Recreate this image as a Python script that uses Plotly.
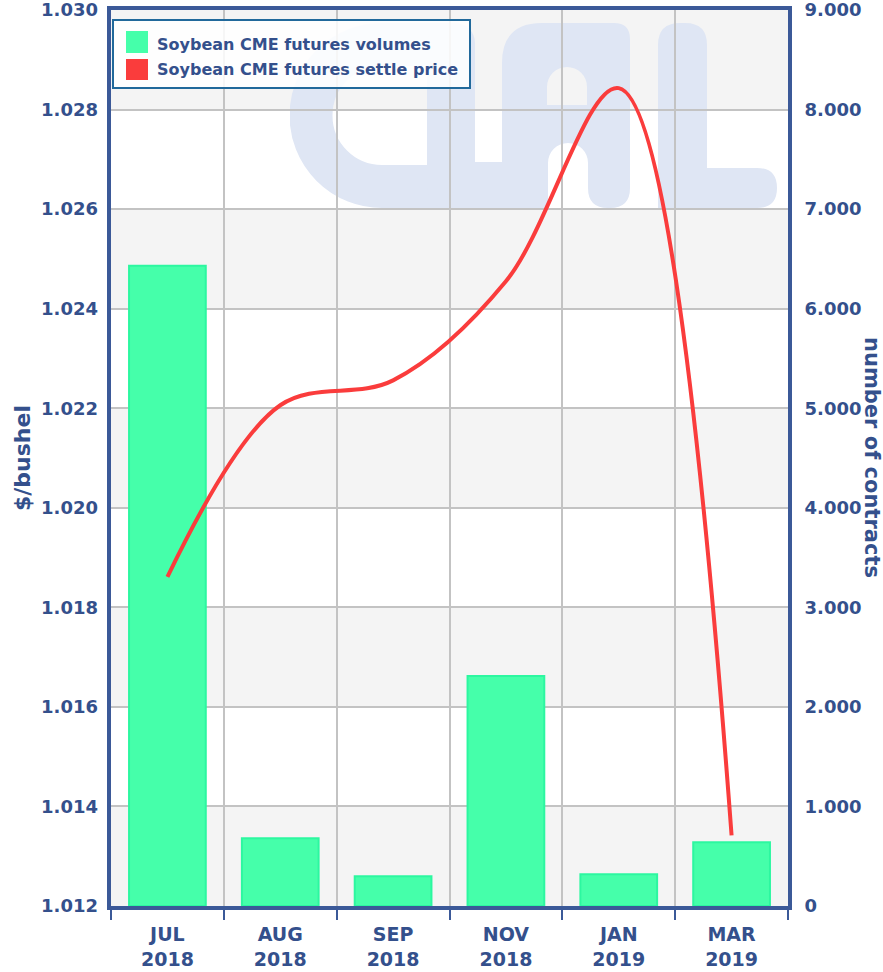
import base64
import plotly.graph_objects as go

# data
months = ["JUL<br>2018", "AUG<br>2018", "SEP<br>2018", "NOV<br>2018", "JAN<br>2019", "MAR<br>2019"]
volumes = [6430, 680, 300, 2310, 320, 640]
settle_price = [1.01861, 1.02206, 1.02256, 1.02455, 1.02843, 1.01342]

price_ticks = [1.012, 1.014, 1.016, 1.018, 1.020, 1.022, 1.024, 1.026, 1.028, 1.030]
volume_ticks = [0, 1000, 2000, 3000, 4000, 5000, 6000, 7000, 8000, 9000]
volume_ticktext = ["0", "1.000", "2.000", "3.000", "4.000", "5.000", "6.000", "7.000", "8.000", "9.000"]

W, H = 883, 972
ML, MR, MT, MB = 111, 95, 10, 66
PW, PH = W - ML - MR, H - MT - MB

BLUE = "#3b5998"
TEXT = "#34508c"
FONT = "DejaVu Sans"


def px_x(px):
    return (px - ML) / PW


def px_y(py):
    return 1 - (py - MT) / PH


fig = go.Figure()

fig.add_trace(go.Bar(
    x=months, y=volumes, name="Soybean CME futures volumes",
    width=0.68, yaxis="y",
    marker=dict(color="#45ffaa", line=dict(color="#2cf7a0", width=2)),
    showlegend=False,
))
fig.add_trace(go.Scatter(
    x=months, y=settle_price, name="Soybean CME futures settle price",
    mode="lines", yaxis="y2",
    line=dict(color="#fa3c3c", width=4, shape="spline", smoothing=1),
    showlegend=False,
))

# alternating grey bands
shapes = []
for lo, hi in zip(volume_ticks[0::2], volume_ticks[1::2]):
    shapes.append(dict(type="rect", xref="paper", yref="y", x0=0, x1=1, y0=lo, y1=hi,
                       fillcolor="rgba(0,0,0,0.045)", line=dict(width=0), layer="below"))

# legend box
shapes.append(dict(type="rect", xref="paper", yref="paper",
                   x0=px_x(113), x1=px_x(470), y0=px_y(88), y1=px_y(20),
                   fillcolor="rgba(255,255,255,0.85)", line=dict(color="#21699b", width=2),
                   layer="above"))
shapes.append(dict(type="rect", xref="paper", yref="paper",
                   x0=px_x(126), x1=px_x(148), y0=px_y(53), y1=px_y(31),
                   fillcolor="#45ffaa", line=dict(width=0), layer="above"))
shapes.append(dict(type="rect", xref="paper", yref="paper",
                   x0=px_x(126), x1=px_x(148), y0=px_y(80), y1=px_y(59),
                   fillcolor="#fa3c3c", line=dict(width=0), layer="above"))

annotations = [
    dict(text="Soybean CME futures volumes", xref="paper", yref="paper",
         x=px_x(155), y=px_y(44), xanchor="left", yanchor="middle", showarrow=False,
         font=dict(family=FONT, size=16, color=TEXT, weight="bold")),
    dict(text="Soybean CME futures settle price", xref="paper", yref="paper",
         x=px_x(155), y=px_y(70), xanchor="left", yanchor="middle", showarrow=False,
         font=dict(family=FONT, size=16, color=TEXT, weight="bold")),
    dict(text="$/bushel", xref="paper", yref="paper", x=px_x(22), y=px_y(458),
         textangle=-90, showarrow=False, xanchor="center", yanchor="middle",
         font=dict(family=FONT, size=22, color=TEXT, weight="bold")),
    dict(text="number of contracts", xref="paper", yref="paper", x=px_x(872), y=px_y(457),
         textangle=90, showarrow=False, xanchor="center", yanchor="middle",
         font=dict(family=FONT, size=21, color=TEXT, weight="bold")),
]

# faint "clal" watermark
WM_COLOR = "#dfe6f4"
svg = f'''<svg xmlns="http://www.w3.org/2000/svg" width="487" height="185" viewBox="290 23 487 185">
<g fill="{WM_COLOR}">
<path d="M450,44.5 L382,44.5 A71,71 0 0 0 382,186.5 L450,186.5" fill="none" stroke="{WM_COLOR}" stroke-width="43"/>
<rect x="427" y="23" width="48" height="185" rx="20"/>
<rect x="440" y="162" width="100" height="46"/>
<path fill-rule="evenodd" d="M502,208 L502,63 Q502,23 542,23 L614,23 Q630,23 630,39 L630,188 Q630,208 610,208 L608,208 Q588,208 588,188 L588,163 A20,20 0 0 0 548,163 L548,208 Z M547,105 L547,87 A20,20 0 0 1 587,87 L587,105 Z"/>
<path d="M658,208 L658,45 Q658,23 680,23 L685,23 Q707,23 707,45 L707,168 L757,168 Q777,168 777,188 Q777,208 757,208 Z"/>
</g></svg>'''
wm_src = "data:image/svg+xml;base64," + base64.b64encode(svg.encode()).decode()

fig.update_layout(
    width=W, height=H,
    margin=dict(l=ML, r=MR, t=MT, b=MB, autoexpand=False),
    paper_bgcolor="white", plot_bgcolor="white",
    font=dict(family=FONT, color=TEXT),
    shapes=shapes,
    annotations=annotations,
    images=[dict(source=wm_src, xref="x domain", yref="y domain",
                 x=px_x(290), y=px_y(23), sizex=487 / PW, sizey=185 / PH,
                 xanchor="left", yanchor="top", sizing="stretch", layer="below")],
    xaxis=dict(
        type="category", tickson="boundaries", automargin=False,
        showgrid=True, gridcolor="#c3c3c3", gridwidth=2,
        showline=True, linecolor=BLUE, linewidth=4, mirror=True,
        ticks="outside", ticklen=10, tickwidth=2, tickcolor=BLUE,
        ticklabelstandoff=8,
        tickfont=dict(family=FONT, size=19, color=TEXT, weight="bold"),
    ),
    yaxis=dict(
        side="right", range=[0, 9000], automargin=False,
        tickvals=volume_ticks, ticktext=volume_ticktext,
        showgrid=True, gridcolor="#c3c3c3", gridwidth=2, zeroline=False,
        showline=True, linecolor=BLUE, linewidth=4, mirror=True,
        ticks="", ticklabelstandoff=9, ticklabeloverflow="allow",
        tickfont=dict(family=FONT, size=18, color=TEXT, weight="bold"),
    ),
    yaxis2=dict(
        overlaying="y", side="left", range=[1.012, 1.030], automargin=False,
        tickvals=price_ticks, tickformat=".3f",
        showgrid=False, zeroline=False, showline=False,
        ticks="", ticklabelstandoff=12, ticklabeloverflow="allow",
        tickfont=dict(family=FONT, size=18, color=TEXT, weight="bold"),
    ),
)

# the page body has a default 8px margin; drop it so the chart sits at the top-left corner
fig.write_html("out.html", config={"displayModeBar": False},
               post_script="document.body.style.margin='0px';")
